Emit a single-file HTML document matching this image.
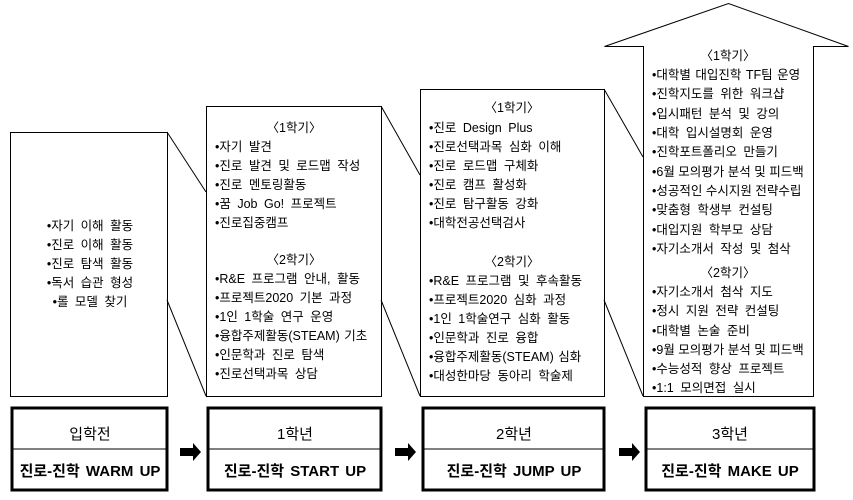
<!DOCTYPE html>
<html><head><meta charset="utf-8"><style>
body{margin:0;background:#fff;}
svg text{font-family:"Liberation Sans","Noto Sans CJK KR","NanumGothic",sans-serif;font-size:12.5px;fill:#000;word-spacing:3px;}
.c{text-anchor:middle}
.b{font-size:15px;font-weight:bold;word-spacing:2px}
.h{font-size:15px}
</style></head><body>
<svg width="853" height="495" viewBox="0 0 853 495" xmlns="http://www.w3.org/2000/svg">
<g fill="none" stroke="#000" stroke-width="1">
<rect x="10.5" y="132.5" width="157" height="264"/>
<rect x="206.5" y="106.5" width="175" height="290"/>
<rect x="420.5" y="89.5" width="184" height="307"/>
<polygon points="643.5,396.5 643.5,46.5 604.5,46.5 728.5,3.5 848.5,46.5 813.5,46.5 813.5,396.5"/>
<line x1="167" y1="132" x2="206" y2="192"/>
<line x1="167" y1="300" x2="206" y2="396"/>
<line x1="381" y1="106" x2="420" y2="175"/>
<line x1="381" y1="300" x2="420" y2="396"/>
<line x1="604" y1="89" x2="643" y2="157"/>
<line x1="604" y1="300" x2="643" y2="396"/>
</g>
<g fill="none" stroke="#000" stroke-width="3">
<rect x="12" y="408" width="155" height="82"/>
<rect x="208" y="408" width="173" height="82"/>
<rect x="423" y="408" width="181" height="82"/>
<rect x="646" y="408" width="168" height="82"/>
</g>
<g stroke="#000" stroke-width="1">
<line x1="12" y1="449" x2="167" y2="449"/><line x1="208" y1="449" x2="381" y2="449"/>
<line x1="423" y1="449" x2="604" y2="449"/><line x1="646" y1="449" x2="814" y2="449"/>
</g>
<g fill="#000">
<polygon points="180,448 193,448 193,443 201,452 193,461 193,456 180,456"/>
<polygon points="395,448 408,448 408,443 416,452 408,461 408,456 395,456"/>
<polygon points="619,448 632,448 632,443 640,452 632,461 632,456 619,456"/>
</g>
<text class="c h" x="90" y="439">입학전</text><text class="c b" x="90" y="476">진로-진학 WARM UP</text>
<text class="c h" x="295" y="439">1학년</text><text class="c b" x="295" y="476">진로-진학 START UP</text>
<text class="c h" x="514" y="439">2학년</text><text class="c b" x="514" y="476">진로-진학 JUMP UP</text>
<text class="c h" x="730" y="439">3학년</text><text class="c b" x="730" y="476">진로-진학 MAKE UP</text>

<text class="c" x="90" y="230">•자기 이해 활동</text>
<text class="c" x="90" y="249">•진로 이해 활동</text>
<text class="c" x="90" y="268">•진로 탐색 활동</text>
<text class="c" x="90" y="287">•독서 습관 형성</text>
<text class="c" x="90" y="306">•롤 모델 찾기</text>

<text class="c" x="294" y="132">〈1학기〉</text>
<text x="215" y="151">•자기 발견</text>
<text x="215" y="170">•진로 발견 및 로드맵 작성</text>
<text x="215" y="189">•진로 멘토링활동</text>
<text x="215" y="208">•꿈 Job Go! 프로젝트</text>
<text x="215" y="227">•진로집중캠프</text>
<text class="c" x="294" y="264">〈2학기〉</text>
<text x="215" y="283">•R&amp;E 프로그램 안내, 활동</text>
<text x="215" y="302">•프로젝트2020 기본 과정</text>
<text x="215" y="321">•1인 1학술 연구 운영</text>
<text x="215" y="340" style="word-spacing:1px">•융합주제활동(STEAM) 기초</text>
<text x="215" y="359">•인문학과 진로 탐색</text>
<text x="215" y="378">•진로선택과목 상담</text>

<text class="c" x="512" y="112">〈1학기〉</text>
<text x="429" y="132">•진로 Design Plus</text>
<text x="429" y="151">•진로선택과목 심화 이해</text>
<text x="429" y="170">•진로 로드맵 구체화</text>
<text x="429" y="189">•진로 캠프 활성화</text>
<text x="429" y="208">•진로 탐구활동 강화</text>
<text x="429" y="227">•대학전공선택검사</text>
<text class="c" x="512" y="266">〈2학기〉</text>
<text x="429" y="285">•R&amp;E 프로그램 및 후속활동</text>
<text x="429" y="304">•프로젝트2020 심화 과정</text>
<text x="429" y="323">•1인 1학술연구 심화 활동</text>
<text x="429" y="342">•인문학과 진로 융합</text>
<text x="429" y="361" style="word-spacing:1px">•융합주제활동(STEAM) 심화</text>
<text x="429" y="380">•대성한마당 동아리 학술제</text>

<text class="c" x="728" y="60">〈1학기〉</text>
<text x="652" y="79" style="word-spacing:1px">•대학별 대입진학 TF팀 운영</text>
<text x="652" y="98">•진학지도를 위한 워크샵</text>
<text x="652" y="118">•입시패턴 분석 및 강의</text>
<text x="652" y="137">•대학 입시설명회 운영</text>
<text x="652" y="156">•진학포트폴리오 만들기</text>
<text x="652" y="176" style="word-spacing:0">•6월 모의평가 분석 및 피드백</text>
<text x="652" y="195" style="word-spacing:0">•성공적인 수시지원 전략수립</text>
<text x="652" y="214">•맞춤형 학생부 컨설팅</text>
<text x="652" y="234">•대입지원 학부모 상담</text>
<text x="652" y="253">•자기소개서 작성 및 첨삭</text>
<text class="c" x="728" y="277">〈2학기〉</text>
<text x="652" y="296">•자기소개서 첨삭 지도</text>
<text x="652" y="315">•정시 지원 전략 컨설팅</text>
<text x="652" y="335">•대학별 논술 준비</text>
<text x="652" y="354" style="word-spacing:0">•9월 모의평가 분석 및 피드백</text>
<text x="652" y="373">•수능성적 향상 프로젝트</text>
<text x="652" y="392">•1:1 모의면접 실시</text>
</svg>
</body></html>
